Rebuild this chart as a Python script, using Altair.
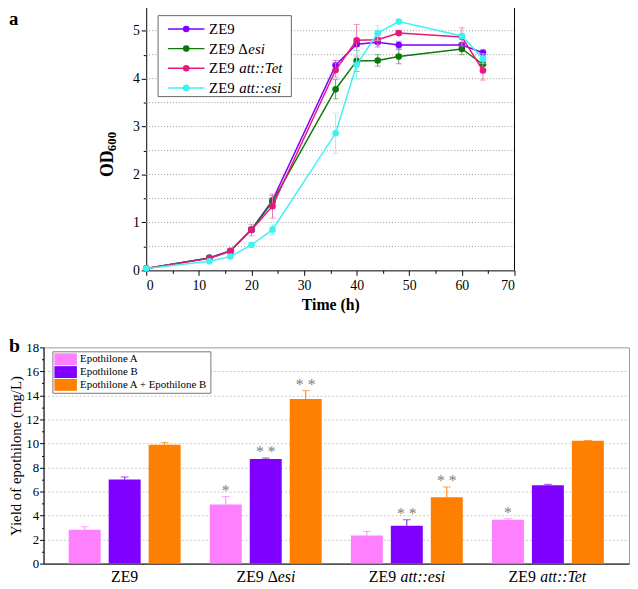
import altair as alt
import pandas as pd

FONT = "Liberation Serif"

# ---------------- panel a : growth curves ----------------
time_h = [0, 12, 16, 20, 24, 36, 40, 44, 48, 60, 64]
od_ze9 = [0.04, 0.26, 0.41, 0.85, 1.46, 4.28, 4.72, 4.76, 4.70, 4.70, 4.54]
od_ze9_desi = [0.04, 0.26, 0.40, 0.85, 1.43, 3.78, 4.37, 4.38, 4.46, 4.62, 4.30]
od_ze9_tet = [0.04, 0.25, 0.40, 0.84, 1.34, 4.18, 4.80, 4.81, 4.95, 4.87, 4.17]
od_ze9_esi = [0.04, 0.19, 0.29, 0.53, 0.85, 2.86, 4.29, 4.95, 5.19, 4.89, 4.42]
sd_ze9 = [0.01, 0.02, 0.03, 0.05, 0.10, 0.10, 0.05, 0.10, 0.08, 0.05, 0.07]
sd_ze9_desi = [0.01, 0.02, 0.03, 0.05, 0.08, 0.20, 0.22, 0.12, 0.15, 0.12, 0.10]
sd_ze9_tet = [0.01, 0.02, 0.05, 0.12, 0.25, 0.15, 0.33, 0.10, 0.05, 0.19, 0.20]
sd_ze9_esi = [0.01, 0.02, 0.03, 0.05, 0.10, 0.42, 0.30, 0.15, 0.04, 0.06, 0.10]

series_names = ["ZE9", "ZE9 Δesi", "ZE9 att::Tet", "ZE9 att::esi"]
series_plain = ["ZE9", "ZE9 Δ", "ZE9 ", "ZE9 "]
series_italic = ["", "esi", "att::Tet", "att::esi"]
series_colors = ["#7F00FF", "#0B7A0B", "#E8177F", "#3FF2F2"]
series_err_colors = ["#A866FF", "#5A9E5A", "#EE70B0", "#8CF4F4"]
od_values = [od_ze9, od_ze9_desi, od_ze9_tet, od_ze9_esi]
od_sd = [sd_ze9, sd_ze9_desi, sd_ze9_tet, sd_ze9_esi]

# ---------------- panel b : yields ----------------
strains = ["ZE9", "ZE9 Δesi", "ZE9 att::esi", "ZE9 att::Tet"]
strain_plain = ["ZE9", "ZE9 Δ", "ZE9 ", "ZE9 "]
strain_italic = ["", "esi", "att::esi", "att::Tet"]
products = ["Epothilone A", "Epothilone B", "Epothilone A + Epothilone B"]
product_colors = ["#FF80FF", "#7F00FF", "#FF7F00"]
yield_a = [2.82, 4.93, 2.33, 3.64]
yield_b = [7.01, 8.71, 3.15, 6.52]
yield_ab = [9.89, 13.70, 5.53, 10.22]
err_a = [0.25, 0.65, 0.35, 0.10]
err_b = [0.20, 0.08, 0.50, 0.08]
err_ab = [0.20, 0.70, 0.85, 0.03]
sig_a = ["", "*", "", "*"]
sig_b = ["", "* *", "* *", ""]
sig_ab = ["", "* *", "* *", ""]

# approximate Times advance widths (em) for label composition
W_NORMAL = {"Z": 0.611, "E": 0.611, "9": 0.5, " ": 0.25, "Δ": 0.612}
W_ITALIC = {"a": 0.5, "t": 0.278, ":": 0.333, "T": 0.556, "e": 0.444, "s": 0.389, "i": 0.278}


def text_w(s, table, size):
    return sum(table.get(ch, 0.5) for ch in s) * size


# ---------- build tables ----------
rows = []
for name, vals, sds in zip(series_names, od_values, od_sd):
    for t, v, s in zip(time_h, vals, sds):
        rows.append({"series": name, "time": t, "od": v, "sd": s})
df_a = pd.DataFrame(rows)

rows = []
for vals, errs, sigs, prod in [(yield_a, err_a, sig_a, products[0]),
                               (yield_b, err_b, sig_b, products[1]),
                               (yield_ab, err_ab, sig_ab, products[2])]:
    for st, v, e, sg in zip(strains, vals, errs, sigs):
        rows.append({"strain": st, "product": prod, "value": v, "err": e, "top": v + e, "sig": sg})
df_b = pd.DataFrame(rows)

df_one = pd.DataFrame({"k": [0]})

# ---------------- panel a ----------------
A_W, A_H = 477, 267
X0 = 104

x_axis_a = alt.Axis(
    values=list(range(0, 71, 5)),
    labelExpr="datum.value % 10 === 0 ? '' + datum.value : ''",
    tickSize={"condition": {"test": "datum.value % 10 === 0", "value": 5}, "value": 3},
    labelFontSize=14, labelPadding=3, grid=False, labelFont=FONT,
    title="Time (h)", titleFontSize=16, titleFontWeight="bold", titlePadding=5, titleFont=FONT,
)
y_axis_a = alt.Axis(
    orient="left", offset=-X0,
    values=[i * 0.5 for i in range(11)],
    labelExpr="datum.value % 1 === 0 ? '' + datum.value : ''",
    tickSize={"condition": {"test": "datum.value % 1 === 0", "value": 5}, "value": 3},
    labelFontSize=14, labelPadding=2, grid=False, title=None, labelFont=FONT,
)
xs_a = alt.Scale(domain=[0, 70], range=[X0, A_W], nice=False)
ys_a = alt.Scale(domain=[0, 5.5], nice=False)

layers_a = []
grid_vals = [0.5 * i for i in range(1, 11)]
layers_a.append(
    alt.Chart(pd.DataFrame({"gy": grid_vals})).mark_rule(color="#9a9a9a", strokeDash=[1, 2], strokeWidth=1).encode(
        x=alt.X(datum=0, type="quantitative", scale=xs_a, axis=x_axis_a),
        x2=alt.X2(datum=70),
        y=alt.Y("gy:Q", scale=ys_a, axis=y_axis_a),
    )
)
layers_a.append(
    alt.Chart(df_one).mark_rule(color="black", strokeWidth=1).encode(
        x=alt.X(datum=0, type="quantitative", scale=xs_a, axis=x_axis_a),
        x2=alt.X2(datum=70),
        y=alt.Y(datum=5.5, type="quantitative", scale=ys_a, axis=y_axis_a),
    )
)
layers_a.append(
    alt.Chart(df_one).mark_rule(color="black", strokeWidth=1).encode(
        x=alt.X(datum=70, type="quantitative", scale=xs_a, axis=x_axis_a),
        y=alt.Y(datum=0, type="quantitative", scale=ys_a, axis=y_axis_a),
        y2=alt.Y2(datum=5.5),
    )
)
# legend box
layers_a.append(
    alt.Chart(df_one).mark_rect(fill="white", stroke="#666666", strokeWidth=1).encode(
        x=alt.value(116), x2=alt.value(251), y=alt.value(9), y2=alt.value(91)
    )
)

x_a = alt.X("time:Q", scale=xs_a, axis=x_axis_a)
for name, c, ec in zip(series_names, series_colors, series_err_colors):
    base = alt.Chart(df_a).transform_filter(alt.datum.series == name)
    withci = base.transform_calculate(lo="datum.od - datum.sd", hi="datum.od + datum.sd")
    layers_a.append(base.mark_line(color=c, strokeWidth=1.5).encode(
        x=x_a, y=alt.Y("od:Q", scale=ys_a, axis=y_axis_a)))
    layers_a.append(withci.mark_rule(color=ec, strokeWidth=1).encode(
        x=x_a, y=alt.Y("lo:Q", scale=ys_a, axis=y_axis_a), y2="hi:Q"))
    layers_a.append(withci.mark_tick(orient="horizontal", size=6, thickness=1, color=ec).encode(
        x=x_a, y=alt.Y("hi:Q", scale=ys_a, axis=y_axis_a)))
    layers_a.append(withci.mark_tick(orient="horizontal", size=6, thickness=1, color=ec).encode(
        x=x_a, y=alt.Y("lo:Q", scale=ys_a, axis=y_axis_a)))
    layers_a.append(base.mark_circle(size=45, opacity=1, color=c).encode(
        x=x_a, y=alt.Y("od:Q", scale=ys_a, axis=y_axis_a)))

# custom legend rows (mixed roman / italic text)
LEG_TX = 167.7
for i, (plain, ital, c) in enumerate(zip(series_plain, series_italic, series_colors)):
    yy = 22.5 + 19.9 * i
    layers_a.append(alt.Chart(df_one).mark_rule(color=c, strokeWidth=1.5).encode(
        x=alt.value(126), x2=alt.value(163), y=alt.value(yy)))
    layers_a.append(alt.Chart(df_one).mark_circle(size=45, opacity=1, color=c).encode(
        x=alt.value(144.5), y=alt.value(yy)))
    layers_a.append(alt.Chart(pd.DataFrame({"t": [plain]})).mark_text(
        align="left", baseline="middle", fontSize=15, font=FONT, color="black").encode(
        x=alt.value(LEG_TX), y=alt.value(yy), text="t:N"))
    if ital:
        layers_a.append(alt.Chart(pd.DataFrame({"t": [ital]})).mark_text(
            align="left", baseline="middle", fontSize=15, font=FONT, fontStyle="italic", color="black").encode(
            x=alt.value(LEG_TX + text_w(plain, W_NORMAL, 15) + 1), y=alt.value(yy), text="t:N"))

# OD600 title and panel letter
layers_a.append(alt.Chart(pd.DataFrame({"t": ["OD"]})).mark_text(
    angle=270, align="center", baseline="middle", fontSize=18, fontWeight="bold", font=FONT, color="black").encode(
    x=alt.value(X0 - 38.3), y=alt.value(159), text="t:N"))
layers_a.append(alt.Chart(pd.DataFrame({"t": ["600"]})).mark_text(
    angle=270, align="center", baseline="middle", fontSize=13, fontWeight="bold", font=FONT, color="black").encode(
    x=alt.value(X0 - 35), y=alt.value(136.5), text="t:N"))
layers_a.append(alt.Chart(pd.DataFrame({"t": ["a"]})).mark_text(
    align="left", baseline="alphabetic", fontSize=19, fontWeight="bold", font=FONT, color="black").encode(
    x=alt.value(-35), y=alt.value(18), text="t:N"))

panel_a = alt.layer(*layers_a).properties(
    width=A_W, height=A_H, view=alt.ViewBackground(stroke="transparent"))

# ---------------- panel b ----------------
B_W, B_H = 593, 219

x_axis_b = alt.Axis(labels=False, ticks=False, title=None, grid=False)
y_axis_b = alt.Axis(
    values=list(range(0, 19)),
    labelExpr="datum.value % 2 === 0 ? '' + datum.value : ''",
    tickSize={"condition": {"test": "datum.value % 2 === 0", "value": 4}, "value": 2},
    labelFontSize=13, labelPadding=1, labelFont=FONT,
    grid=True, gridColor="#c8c8c8", gridDash=[2, 2],
    gridOpacity={"condition": {"test": "datum.value % 2 === 0 && datum.value > 0 && datum.value < 18", "value": 1}, "value": 0},
    title="Yield of epothilone (mg/L)", titleFontSize=15, titleFontWeight="normal", titlePadding=2, titleFont=FONT,
)
xs_b = alt.Scale(domain=strains, paddingInner=0, paddingOuter=0.075)
xo_b = alt.XOffset("product:N", scale=alt.Scale(domain=products, paddingInner=0.2, paddingOuter=0.365))
ys_b = alt.Scale(domain=[0, 18], nice=False)
x_b = alt.X("strain:N", scale=xs_b, axis=x_axis_b, sort=strains)
color_b = alt.Color("product:N", scale=alt.Scale(domain=products, range=product_colors),
                    legend=alt.Legend(orient="none", legendX=9, legendY=4, title=None,
                                      symbolType="M-1,-1H2.8V1H-1Z", symbolSize=144,
                                      symbolStrokeWidth=0, symbolOpacity=1,
                                      labelFontSize=11, labelFont=FONT, labelColor="black",
                                      labelOffset=14, labelLimit=300,
                                      padding=2, rowPadding=1,
                                      strokeColor="#777777", fillColor="white"))

layers_b = []
layers_b.append(alt.Chart(df_b).mark_bar().encode(
    x=x_b, xOffset=xo_b, y=alt.Y("value:Q", scale=ys_b, axis=y_axis_b), color=color_b))
layers_b.append(alt.Chart(df_b).mark_rule(strokeWidth=1).encode(
    x=x_b, xOffset=xo_b, y=alt.Y("value:Q", scale=ys_b, axis=y_axis_b), y2="top:Q", color=color_b))
layers_b.append(alt.Chart(df_b).mark_tick(orient="horizontal", size=8, thickness=1).encode(
    x=x_b, xOffset=xo_b, y=alt.Y("top:Q", scale=ys_b, axis=y_axis_b), color=color_b))
layers_b.append(alt.Chart(df_b).transform_filter("datum.sig != ''").mark_text(
    fontSize=16, font=FONT, color="#808080", baseline="alphabetic", dy=-1).encode(
    x=x_b, xOffset=xo_b, y=alt.Y("top:Q", scale=ys_b, axis=y_axis_b), text="sig:N"))

for st, plain, ital in zip(strains, strain_plain, strain_italic):
    wp = text_w(plain, W_NORMAL, 16)
    wi = text_w(ital, W_ITALIC, 16)
    wt = wp + wi
    layers_b.append(alt.Chart(pd.DataFrame({"t": [plain]})).mark_text(
        align="left", baseline="top", fontSize=16, font=FONT, color="black", dx=-wt / 2).encode(
        x=alt.X(datum=st, type="nominal", scale=xs_b, axis=x_axis_b), y=alt.value(B_H + 6), text="t:N"))
    if ital:
        layers_b.append(alt.Chart(pd.DataFrame({"t": [ital]})).mark_text(
            align="left", baseline="top", fontSize=16, font=FONT, fontStyle="italic", color="black",
            dx=-wt / 2 + wp + 0.5).encode(
            x=alt.X(datum=st, type="nominal", scale=xs_b, axis=x_axis_b), y=alt.value(B_H + 6), text="t:N"))

layers_b.append(alt.Chart(pd.DataFrame({"t": ["b"]})).mark_text(
    align="left", baseline="alphabetic", fontSize=20, fontWeight="bold", font=FONT, color="black").encode(
    x=alt.value(-35), y=alt.value(5), text="t:N"))

panel_b = alt.layer(*layers_b).properties(
    width=B_W, height=B_H, view=alt.ViewBackground(stroke="#999999", strokeWidth=1))

chart = alt.vconcat(panel_a, panel_b, spacing=22).resolve_scale(
    color="independent"
).resolve_legend(
    color="independent"
).properties(padding={"top": -6, "left": 0, "right": 0, "bottom": 0}).configure(
    font=FONT
).configure_axis(
    labelFont=FONT, titleFont=FONT, labelColor="black", titleColor="black",
    domainColor="black", tickColor="black", domainWidth=1, tickWidth=1
).configure_legend(labelFont=FONT)

chart.save("out.html", embed_options={"renderer": "svg", "actions": False})
